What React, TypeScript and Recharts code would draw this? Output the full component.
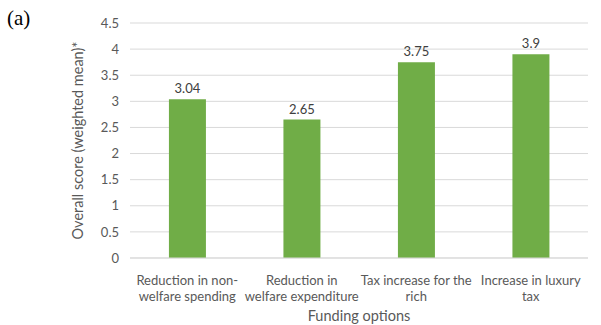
import React from "react";
import { BarChart, Bar, XAxis, YAxis, CartesianGrid, LabelList } from "recharts";

const categories = [
  "Reduction in non-|welfare spending",
  "Reduction in|welfare expenditure",
  "Tax increase for the|rich",
  "Increase in luxury|tax",
];
const scores = [3.04, 2.65, 3.75, 3.9];
const yTicks = [0, 0.5, 1, 1.5, 2, 2.5, 3, 3.5, 4, 4.5];

const data = categories.map((c, i) => ({ name: c, score: scores[i] }));

const FONT = "Lato, 'Noto Sans', sans-serif";

const CategoryTick = (props: any) => {
  const { x, y, payload } = props;
  const lines = String(payload.value).split("|");
  return (
    <g>
      {lines.map((ln, i) => (
        <text
          key={i}
          x={x}
          y={y + 19 + i * 16}
          textAnchor="middle"
          fill="#595959"
          fontSize={13}
          fontFamily={FONT}
        >
          {ln}
        </text>
      ))}
    </g>
  );
};

const YLabel = (props: any) => {
  const { viewBox } = props;
  const cy = viewBox.y + viewBox.height / 2;
  const cx = 83;
  return (
    <text
      x={cx}
      y={cy}
      transform={`rotate(-90, ${cx}, ${cy})`}
      textAnchor="middle"
      fill="#595959"
      fontSize={14.5}
      fontFamily={FONT}
    >
      Overall score (weighted mean)*
    </text>
  );
};

const XLabel = (props: any) => {
  const { viewBox } = props;
  const cx = viewBox.x + viewBox.width / 2;
  return (
    <text x={cx} y={321} textAnchor="middle" fill="#595959" fontSize={14.5} fontFamily={FONT}>
      Funding options
    </text>
  );
};

export default function App() {
  return (
    <div style={{ position: "absolute", left: 0, top: 0, width: 601, height: 325, background: "#fff" }}>
      <div
        style={{
          position: "absolute",
          left: 7,
          top: 8,
          fontFamily: "'Liberation Serif', 'DejaVu Serif', serif",
          fontSize: 21,
          color: "#000",
          lineHeight: 1,
        }}
      >
        (a)
      </div>
      <BarChart
        width={601}
        height={325}
        data={data}
        margin={{ top: 23, right: 13, bottom: 7, left: 0 }}
        barCategoryGap="34%"
      >
        <CartesianGrid vertical={false} stroke="#d9d9d9" strokeWidth={1} />
        <XAxis
          dataKey="name"
          height={60}
          axisLine={{ stroke: "#d9d9d9" }}
          tickLine={false}
          tick={<CategoryTick />}
          interval={0}
          label={<XLabel />}
        />
        <YAxis
          width={130}
          domain={[0, 4.5]}
          ticks={yTicks}
          axisLine={false}
          tickLine={false}
          tickMargin={5}
          tick={{ fill: "#595959", fontSize: 13, fontFamily: FONT }}
          label={<YLabel />}
        />
        <Bar dataKey="score" fill="#70ad47" isAnimationActive={false}>
          <LabelList
            dataKey="score"
            position="top"
            offset={6}
            fill="#404040"
            fontSize={13}
            fontFamily={FONT}
          />
        </Bar>
      </BarChart>
    </div>
  );
}
